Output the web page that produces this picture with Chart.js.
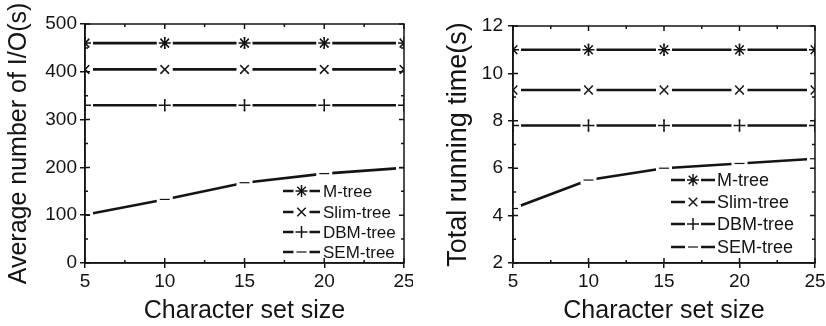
<!DOCTYPE html>
<html>
<head>
<meta charset="utf-8">
<script src="https://cdn.jsdelivr.net/npm/chart.js@4/dist/chart.umd.min.js"></script>
<style>
  html, body { margin: 0; padding: 0; background: #fff; }
  #wrap { position: relative; width: 826px; height: 326px; overflow: hidden; }
  .pane { position: absolute; top: 0; width: 413px; height: 326px; }
</style>
</head>
<body>
<div id="wrap">
  <div class="pane" style="left:0"><canvas id="io" width="413" height="326"></canvas></div>
  <div class="pane" style="left:413px"><canvas id="time" width="413" height="326"></canvas></div>
</div>
<script>
// x values shared by both panels
const charSetSizes = [5, 10, 15, 20, 25]
const seriesNames = ['M-tree', 'Slim-tree', 'DBM-tree', 'SEM-tree']
const markerStyles = ['star', 'crossRot', 'cross', 'line']

// left panel: average number of I/Os
const ioMTree = [460, 460, 460, 460, 460]
const ioSlimTree = [405, 405, 405, 405, 405]
const ioDbmTree = [330, 330, 330, 330, 330]
const ioSemTree = [101, 133, 168, 187, 199]
const ioTicks = [0, 100, 200, 300, 400, 500]

// right panel: total running time (s)
const timeMTree = [11, 11, 11, 11, 11]
const timeSlimTree = [9.3, 9.3, 9.3, 9.3, 9.3]
const timeDbmTree = [7.8, 7.8, 7.8, 7.8, 7.8]
const timeSemTree = [4.3, 5.5, 6.0, 6.2, 6.4]
const timeTicks = [2, 4, 6, 8, 10, 12]

const INK = '#141414'
const FONT = '"Liberation Sans", Arial, Helvetica, sans-serif'

// box around plot area, inward major/minor ticks on all sides
const framePlugin = {
  id: 'frame',
  afterDraw (chart) {
    const { ctx, chartArea: a, scales: { x, y } } = chart
    ctx.save()
    ctx.strokeStyle = INK
    ctx.lineWidth = 1.5
    ctx.strokeRect(a.left, a.top, a.right - a.left, a.bottom - a.top)
    const xv = x.ticks.map(t => t.value)
    const yv = y.ticks.map(t => t.value)
    const half = (arr) => arr.slice(1).map((v, i) => (v + arr[i]) / 2)
    ctx.beginPath()
    const mark = (vals, len) => {
      vals.forEach(v => {
        const px = x.getPixelForValue(v)
        ctx.moveTo(px, a.bottom); ctx.lineTo(px, a.bottom - len)
        ctx.moveTo(px, a.top); ctx.lineTo(px, a.top + len)
      })
    }
    const markY = (vals, len) => {
      vals.forEach(v => {
        const py = y.getPixelForValue(v)
        ctx.moveTo(a.left, py); ctx.lineTo(a.left + len, py)
        ctx.moveTo(a.right, py); ctx.lineTo(a.right - len, py)
      })
    }
    mark(xv, 5); mark(half(xv), 3)
    markY(yv, 5); markY(half(yv), 3)
    ctx.stroke()
    ctx.restore()
  }
}

// Origin-style: line broken around each marker
const gapPlugin = {
  id: 'markerGap',
  afterDatasetDraw (chart, args) {
    const { ctx, chartArea: a } = chart
    ctx.save()
    ctx.beginPath()
    ctx.rect(a.left, a.top, a.right - a.left, a.bottom - a.top)
    ctx.clip()
    args.meta.data.forEach(pt => {
      ctx.fillStyle = '#fff'
      ctx.fillRect(pt.x - 8, pt.y - 4, 16, 8)
      pt.draw(ctx, a)
    })
    ctx.restore()
  }
}

// legend drawn inside the plot, lower right
const boxLegendPlugin = {
  id: 'boxLegend',
  afterDraw (chart, args, opts) {
    const { ctx, chartArea: a } = chart
    ctx.save()
    chart.data.datasets.forEach((ds, i) => {
      const yy = a.bottom + opts.rows[i]
      const x0 = a.right + opts.lineStart
      const x1 = a.right + opts.lineEnd
      const cx = (x0 + x1) / 2
      ctx.strokeStyle = INK
      ctx.lineWidth = ds.borderWidth
      ctx.beginPath()
      ctx.moveTo(x0, yy); ctx.lineTo(cx - 8, yy)
      ctx.moveTo(cx + 8, yy); ctx.lineTo(x1, yy)
      ctx.stroke()
      ctx.lineWidth = ds.pointBorderWidth
      Chart.helpers.drawPoint(ctx, { pointStyle: ds.pointStyle, radius: ds.pointRadius, borderWidth: ds.pointBorderWidth, rotation: 0 }, cx, yy)
      ctx.fillStyle = INK
      ctx.font = opts.fontSize + 'px ' + FONT
      ctx.textBaseline = 'middle'
      ctx.textAlign = 'left'
      ctx.fillText(ds.label, a.right + opts.text, yy + 1)
    })
    ctx.restore()
  }
}

function makeDatasets (seriesValues) {
  return seriesValues.map((vals, i) => ({
    label: seriesNames[i],
    data: charSetSizes.map((c, k) => ({ x: c, y: vals[k] })),
    borderColor: INK,
    backgroundColor: INK,
    borderWidth: 2.6,
    pointStyle: markerStyles[i],
    pointRadius: markerStyles[i] === 'line' ? 5 : 6,
    pointBorderWidth: markerStyles[i] === 'line' ? 1.2 : 1.5,
    pointBorderColor: INK,
    pointBackgroundColor: INK,
    tension: 0,
    clip: 0
  }))
}

function makeChart (id, cfg) {
  const tickFont = { family: FONT, size: 19 }
  return new Chart(document.getElementById(id), {
    type: 'line',
    data: { datasets: makeDatasets(cfg.series) },
    options: {
      responsive: false,
      animation: false,
      events: [],
      layout: { padding: { top: cfg.area.top, right: 413 - cfg.area.right, left: 0, bottom: 0 } },
      plugins: {
        legend: { display: false },
        tooltip: { enabled: false },
        boxLegend: cfg.legend
      },
      scales: {
        x: {
          type: 'linear',
          min: 5,
          max: 25,
          ticks: { stepSize: 5, color: INK, font: tickFont, padding: 2, maxRotation: 0 },
          grid: { drawOnChartArea: false, tickLength: 5, color: INK, lineWidth: 1.5 },
          border: { color: INK, width: 1.5 },
          title: { display: true, text: 'Character set size', color: INK, font: { family: FONT, size: 25 }, padding: { top: 0, bottom: 0 } },
          afterFit (scale) {
            scale.height = 326 - cfg.area.bottom
            scale.paddingLeft = 0
            scale.paddingRight = 0
          }
        },
        y: {
          min: cfg.yTicks[0],
          max: cfg.yTicks[cfg.yTicks.length - 1],
          afterBuildTicks (scale) { scale.ticks = cfg.yTicks.map(v => ({ value: v })) },
          ticks: { color: INK, font: tickFont, padding: cfg.yPad },
          grid: { drawOnChartArea: false, tickLength: 5, color: INK, lineWidth: 1.5 },
          border: { color: INK, width: 1.5 },
          title: { display: true, text: cfg.yTitle, color: INK, font: { family: FONT, size: cfg.yTitleSize }, padding: { top: cfg.yTitlePad, bottom: 0 } },
          afterFit (scale) {
            scale.width = cfg.area.left
            scale.paddingTop = 0
            scale.paddingBottom = 0
          }
        }
      }
    },
    plugins: [gapPlugin, framePlugin, boxLegendPlugin]
  })
}

makeChart('io', {
  series: [ioMTree, ioSlimTree, ioDbmTree, ioSemTree],
  yTicks: ioTicks,
  yTitle: 'Average number of I/O(s)',
  yTitleSize: 25,
  yTitlePad: 4,
  yPad: 3,
  area: { left: 85, right: 404, top: 24, bottom: 263 },
  legend: { lineStart: -121, lineEnd: -84, text: -81, rows: [-72, -51, -31, -11], fontSize: 17 }
})

makeChart('time', {
  series: [timeMTree, timeSlimTree, timeDbmTree, timeSemTree],
  yTicks: timeTicks,
  yTitle: 'Total running time(s)',
  yTitleSize: 27,
  yTitlePad: 29,
  yPad: 5,
  area: { left: 100, right: 402, top: 26, bottom: 263 },
  legend: { lineStart: -144, lineEnd: -100, text: -98, rows: [-83, -61, -39, -16], fontSize: 18 }
})
</script>
</body>
</html>
